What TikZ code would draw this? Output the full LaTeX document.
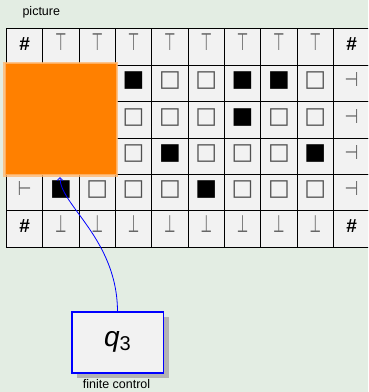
\documentclass[tikz,border=0pt]{standalone}
\usepackage{fontspec}
\setmainfont{Liberation Sans}
\newfontfamily\symf{DejaVu Sans}
\usetikzlibrary{arrows.meta}
\definecolor{bgc}{HTML}{E3EDE3}
\definecolor{cellc}{HTML}{F2F2F2}
\definecolor{orng}{HTML}{FF8000}
\definecolor{shd}{HTML}{B3B3B3}
\definecolor{symg}{HTML}{666666}
\definecolor{sqg}{HTML}{505050}
\newcommand\sHash{{\fontsize{19}{19}\selectfont\bfseries\#}}
\newcommand\sTop{{\symf\fontsize{24}{24}\selectfont\textcolor{symg}{\scalebox{0.55}[1]{⊤}}}}
\newcommand\sBot{{\symf\fontsize{24}{24}\selectfont\textcolor{symg}{\scalebox{0.55}[1]{⊥}}}}
\newcommand\sLft{{\symf\fontsize{20}{20}\selectfont\textcolor{symg}{\scalebox{0.8}[1]{⊢}}}}
\newcommand\sRgt{{\symf\fontsize{20}{20}\selectfont\textcolor{symg}{\scalebox{0.8}[1]{⊣}}}}
\newcommand\sBlk{{\symf\fontsize{23}{23}\selectfont ■}}
\newcommand\sWht{{\symf\fontsize{23}{23}\selectfont\textcolor{sqg}{□}}}
\begin{document}
\begin{tikzpicture}[x=1pt,y=-1pt,
  cell/.style={draw=black,line width=0.9pt,fill=cellc,minimum width=36.33pt,minimum height=36.4pt,inner sep=0pt,anchor=north west,text height=1.3ex,text depth=0pt},
  lbl/.style={font=\fontsize{12.5}{14}\selectfont,inner sep=0pt}]
\useasboundingbox (0,0) rectangle (368,392);
\clip (0,0) rectangle (368,392);
\fill[bgc] (0,0) rectangle (368,392);
\node[lbl] (pic) at (41.3,12) {picture};
\foreach \r/\row in {1/{\sHash,\sTop,\sTop,\sTop,\sTop,\sTop,\sTop,\sTop,\sTop,\sHash},
                     2/{\sLft,{},{},\sBlk,\sWht,\sWht,\sBlk,\sBlk,\sWht,\sRgt},
                     3/{\sLft,{},{},\sWht,\sWht,\sWht,\sBlk,\sWht,\sWht,\sRgt},
                     4/{\sLft,{},{},\sWht,\sBlk,\sWht,\sWht,\sWht,\sBlk,\sRgt},
                     5/{\sLft,\sBlk,\sWht,\sWht,\sWht,\sBlk,\sWht,\sWht,\sWht,\sRgt},
                     6/{\sHash,\sBot,\sBot,\sBot,\sBot,\sBot,\sBot,\sBot,\sBot,\sHash}}{
  \foreach \s [count=\c] in \row {
    \node[cell] (c\r-\c) at ({6+36.33*(\c-1)},{28.3+36.4*(\r-1)}) {\s};
  }
}
\fill[orng,draw=orng!55,draw opacity=0.8,line width=2.5pt] (4.6,63) rectangle (116.8,175.4);
\node[draw=none,fill=shd,minimum width=91.5pt,minimum height=61pt,anchor=north west] (shadow) at (77,317) {};
\node[draw=blue,line width=1.5pt,fill=cellc,minimum width=91.5pt,minimum height=61pt,anchor=north west,inner sep=0pt,font=\fontsize{28}{28}\selectfont] (fc) at (71,311) {\textit{q}{\fontsize{20}{20}\selectfont\raisebox{-4pt}{3}}};
\node[lbl] (fcl) at (116.5,384.5) {finite control};
\coordinate (tip) at (60,177);
\draw[blue,line width=0.8pt,-{Straight Barb[length=3pt,width=6pt]}] (fc.north) .. controls (117,239) and (60,205) .. (tip);
\end{tikzpicture}
\end{document}
